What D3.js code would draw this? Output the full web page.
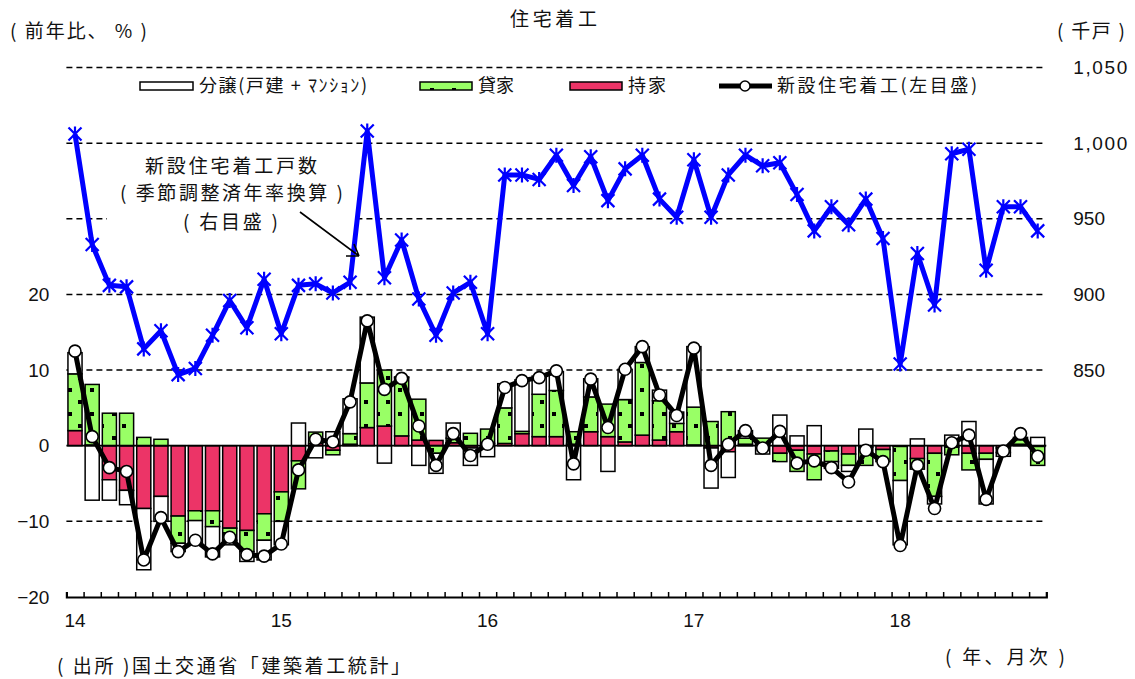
<!DOCTYPE html>
<html>
<head>
<meta charset="utf-8">
<script src="https://cdn.jsdelivr.net/npm/d3@7"></script>
<style>
  body { margin: 0; background: #fff; }
  svg text { font-family: "Noto Sans CJK JP", "Noto Sans", sans-serif; fill: #111; }
  svg text.num { font-family: "Liberation Sans", Arial, sans-serif; }
</style>
</head>
<body>
<svg id="chart" width="1135" height="679"></svg>
<script>
// ---- data: housing starts, Jan 2014 - Sep 2018 ----
const yearLabels = ["14", "15", "16", "17", "18"];
const months = yearLabels.flatMap(y => d3.range(1, 13).map(m => `${y}/${m}`)).slice(0, 57);

// contribution to y/y change (%pt): owner-occupied
const ownerOccupied = [
  2.0, 0.1, -4.5, -5.9, -8.3, -6.7, -9.3, -8.6, -8.6, -10.9, -11.2, -9.0,
  -6.1, -2.0, 0.3, -0.6, 0.2, 2.4, 2.6, 1.3, 0.75, 0.7, 0.4, -0.3,
  0.3, 0.3, 1.6, 1.2, 1.2, 0.2, 1.85, 1.2, 0.5, 1.4, 0.75, 1.85,
  0.1, -0.3, -0.8, 0.2, 0.1, -1.0, -0.6, -1.1, -0.7, -1.1, -0.2, -0.5,
  -0.1, -1.7, -1.0, -0.2, -1.0, -1.0, -0.3, 0.2, -0.1
];
// rental
const rental = [
  7.5, 8.0, 4.3, 4.3, 1.1, 0.85, -3.6, -1.3, -2.1, -1.6, -2.8, -3.5,
  -3.9, -3.7, 1.5, -0.6, 1.4, 5.9, 7.4, 7.7, 5.4, -1.0, 0.6, 1.64,
  1.9, 4.7, 0.3, 5.6, 6.1, 1.65, 4.6, 4.3, 5.6, 9.6, 5.2, 1.1,
  5.0, 3.2, 4.5, 0.8, 0.9, -1.1, -2.8, -3.4, -1.4, -1.5, -2.4, -1.6,
  -4.5, -1.4, -5.7, -1.0, -2.2, -0.8, -0.6, 0.6, -2.5
];
// built for sale (detached + condominium)
const forSale = [
  2.8, -7.2, -2.7, -1.9, -8.1, -3.3, -1.1, -3.1, -4.0, -0.6, -1.3, -2.6,
  -3.1, 3.0, -1.6, 1.85, 4.6, 8.7, -2.3, 0.1, -2.6, -2.65, 2.0, -2.3,
  -1.45, 3.2, 6.8, 2.4, 2.5, -4.5, 2.4, -3.4, 4.0, 2.1, 1.4, 1.5,
  8.0, -5.3, -3.4, 1.0, -1.1, 4.05, 1.3, 2.65, -0.9, -0.8, 2.2, 0.0,
  -8.5, 0.9, -1.0, 1.4, 3.2, -5.9, -0.5, 0.3, 1.1
];
// total new housing starts, y/y %
const totalYoY = [
  12.5, 1.2, -2.9, -3.4, -15.1, -9.5, -14.0, -12.5, -14.3, -12.1, -14.4, -14.6,
  -13.0, -3.2, 0.85, 0.5, 5.8, 16.5, 7.45, 8.9, 2.6, -2.6, 1.6, -1.3,
  0.2, 7.7, 8.6, 9.0, 9.9, -2.4, 8.8, 2.4, 10.1, 13.1, 6.7, 4.0,
  12.9, -2.6, 0.2, 2.0, -0.3, 1.9, -2.3, -2.0, -2.9, -4.8, -0.6, -2.1,
  -13.2, -2.6, -8.3, 0.4, 1.4, -7.1, -0.7, 1.6, -1.4
];
// seasonally adjusted annual rate, thousand units (right scale)
const saar = [
  1006, 933, 906, 905, 864, 876, 847, 851, 873, 896, 878, 910,
  874, 906, 907, 901, 908, 1008, 911, 936, 897, 873, 901, 908,
  874, 979, 979, 976, 992, 972, 991, 962, 983, 992, 963, 951,
  989, 951, 979, 992, 985, 987, 966, 942, 958, 946, 963, 937,
  854, 927, 893, 993, 996, 916, 958, 958, 942
];

const leftTicks = [-20, -10, 0, 10, 20];
const rightTicks = [850, 900, 950, 1000, 1050];
const seriesKeys = ["持家", "貸家", "分譲"];

// ---- layout ----
const svg = d3.select("#chart");
const X0 = 66.4, X1 = 1046.3, YB = 597, YT = 67.5;
const RED = "#EC3467", GREEN = "#99FF66";

const x = d3.scaleBand().domain(months).range([X0, X1]).paddingInner(0.18).paddingOuter(0.09);
const xEdge = d3.scaleLinear().domain([0, months.length]).range([X0, X1]);
const cx = m => x(m) + x.bandwidth() / 2;
const yL = d3.scaleLinear().domain([-20, 50]).range([YB, YT]);
const yR = d3.scaleLinear().domain([700, 1050]).range([YB, YT]);

// helper: text stretched to a given width
function label(g, tx, ty, str, size, width, anchor) {
  const t = g.append("text").attr("x", tx).attr("y", ty).attr("dy", "0.35em")
    .attr("font-size", size).attr("xml:space", "preserve").style("white-space", "pre").text(str);
  if (anchor) t.attr("text-anchor", anchor);
  if (width) t.attr("textLength", width).attr("lengthAdjust", "spacing");
  return t;
}

// dotted fill for rental bars
const defs = svg.append("defs");
const pat = defs.append("pattern").attr("id", "dots")
  .attr("patternUnits", "userSpaceOnUse").attr("width", 22).attr("height", 24);
pat.append("rect").attr("width", 22).attr("height", 24).attr("fill", GREEN);
pat.append("rect").attr("x", 2).attr("y", 4).attr("width", 4).attr("height", 4).attr("fill", "#000");
pat.append("rect").attr("x", 12).attr("y", 16).attr("width", 4).attr("height", 4).attr("fill", "#000");

// dashed gridlines
const grid = svg.append("g").attr("stroke", "#000").attr("stroke-width", 1.5).attr("stroke-dasharray", "6,4");
[-10, 10, 20].forEach(v => grid.append("line").attr("x1", X0).attr("x2", X1).attr("y1", yL(v)).attr("y2", yL(v)));
[950, 1000, 1050].forEach(v => grid.append("line").attr("x1", X0).attr("x2", X1).attr("y1", yR(v)).attr("y2", yR(v)));

// annotation backdrop
svg.append("rect").attr("x", 107).attr("y", 149).attr("width", 250).attr("height", 88).attr("fill", "#fff");

// stacked contribution bars
const rows = months.map((m, i) => ({ month: m, "持家": ownerOccupied[i], "貸家": rental[i], "分譲": forSale[i] }));
const stacked = d3.stack().keys(seriesKeys).offset(d3.stackOffsetDiverging)(rows);
const fills = { "持家": RED, "貸家": "url(#dots)", "分譲": "#fff" };
svg.append("g").selectAll("g").data(stacked).join("g")
  .attr("fill", d => fills[d.key]).attr("stroke", "#000").attr("stroke-width", 1.5)
  .selectAll("rect").data(d => d).join("rect")
  .attr("x", d => x(d.data.month))
  .attr("width", x.bandwidth())
  .attr("y", d => yL(Math.max(d[0], d[1])))
  .attr("height", d => Math.abs(yL(d[0]) - yL(d[1])));

// zero line
svg.append("line").attr("x1", X0).attr("x2", X1).attr("y1", yL(0)).attr("y2", yL(0))
  .attr("stroke", "#000").attr("stroke-width", 1.8);

// bottom axis: month ticks
const xAxis = svg.append("g").attr("transform", `translate(0,${YB})`)
  .call(d3.axisBottom(xEdge).tickValues(d3.range(months.length + 1)).tickSize(-5).tickFormat(""));
xAxis.select(".domain").attr("stroke", "#000").attr("stroke-width", 2.2);
xAxis.selectAll(".tick line").attr("stroke", "#000").attr("stroke-width", 1.5);

// year labels
svg.append("g").selectAll("text").data(yearLabels).join("text")
  .attr("class", "num")
  .attr("x", y => cx(`${y}/1`)).attr("y", 620).attr("dy", "0.35em")
  .attr("text-anchor", "middle").attr("font-size", 19).text(d => d);

// left axis
const la = svg.append("g").attr("transform", `translate(${X0},0)`)
  .call(d3.axisLeft(yL).tickValues(leftTicks).tickSize(0).tickPadding(17).tickFormat(d3.format("d")));
la.select(".domain").remove();
la.selectAll("text").attr("class", "num").attr("font-size", 19).attr("fill", "#111");

// right axis
const ra = svg.append("g").attr("transform", `translate(${X1},0)`)
  .call(d3.axisRight(yR).tickValues(rightTicks).tickSize(0).tickPadding(27).tickFormat(d3.format(",")));
ra.select(".domain").remove();
ra.selectAll("text").attr("class", "num").attr("font-size", 19).attr("fill", "#111")
  .filter(d => d >= 1000).attr("textLength", 54).attr("lengthAdjust", "spacing");

// total y/y line with circles
svg.append("path").datum(totalYoY)
  .attr("fill", "none").attr("stroke", "#000").attr("stroke-width", 5).attr("stroke-linejoin", "round")
  .attr("d", d3.line().x((d, i) => cx(months[i])).y(d => yL(d)));
svg.append("g").selectAll("circle").data(totalYoY).join("circle")
  .attr("cx", (d, i) => cx(months[i])).attr("cy", d => yL(d)).attr("r", 6)
  .attr("fill", "#fff").attr("stroke", "#000").attr("stroke-width", 1.6);

// SAAR line with star markers
svg.append("path").datum(saar)
  .attr("fill", "none").attr("stroke", "#0000FF").attr("stroke-width", 5).attr("stroke-linejoin", "round")
  .attr("d", d3.line().x((d, i) => cx(months[i])).y(d => yR(d)));
svg.append("g").selectAll("path").data(saar).join("path")
  .attr("transform", (d, i) => `translate(${cx(months[i])},${yR(d)})`)
  .attr("d", "M-6.5,-6.5L6.5,6.5M6.5,-6.5L-6.5,6.5M0,-7.5L0,7.5")
  .attr("stroke", "#0000FF").attr("stroke-width", 2.2).attr("fill", "none");

// annotation
const ann = svg.append("g");
label(ann, 145, 166, "新設住宅着工戸数", 19, 172);
label(ann, 120, 193, "( 季節調整済年率換算 )", 19, 223);
label(ann, 183, 222, "( 右目盛 )", 19, 95);
svg.append("path").attr("d", "M300,212L359,256M359,256L346,256M359,256L354,244")
  .attr("stroke", "#000").attr("stroke-width", 1.6).attr("fill", "none");

// titles and units
const tt = svg.append("g");
label(tt, 510, 19, "住宅着工", 19, 87);
label(tt, 10, 31, "( 前年比、 % )", 19, 137);
label(tt, 1057, 31, "( 千戸 )", 19, 68);
label(tt, 945, 657, "( 年、月次 )", 19, 120);
label(tt, 57, 666, "( 出所 )国土交通省「建築着工統計」", 19, 353);

// legend
const lg = svg.append("g");
const LY = 86;
lg.append("rect").attr("x", 140).attr("y", LY - 4).attr("width", 53).attr("height", 8)
  .attr("fill", "#fff").attr("stroke", "#000").attr("stroke-width", 1.5);
label(lg, 199, LY, "分譲(戸建 + ﾏﾝｼｮﾝ)", 18, 168);
lg.append("rect").attr("x", 420).attr("y", LY - 4).attr("width", 52).attr("height", 8)
  .attr("fill", "url(#dots)").attr("stroke", "#000").attr("stroke-width", 1.5);
label(lg, 478, LY, "貸家", 18, 36);
lg.append("rect").attr("x", 570).attr("y", LY - 4).attr("width", 52).attr("height", 8)
  .attr("fill", RED).attr("stroke", "#000").attr("stroke-width", 1.5);
label(lg, 628, LY, "持家", 18, 38);
lg.append("line").attr("x1", 719).attr("x2", 772).attr("y1", LY).attr("y2", LY)
  .attr("stroke", "#000").attr("stroke-width", 5);
lg.append("circle").attr("cx", 745).attr("cy", LY).attr("r", 5)
  .attr("fill", "#fff").attr("stroke", "#000").attr("stroke-width", 1.5);
label(lg, 777, LY, "新設住宅着工(左目盛)", 18, 200);
</script>
</body>
</html>
